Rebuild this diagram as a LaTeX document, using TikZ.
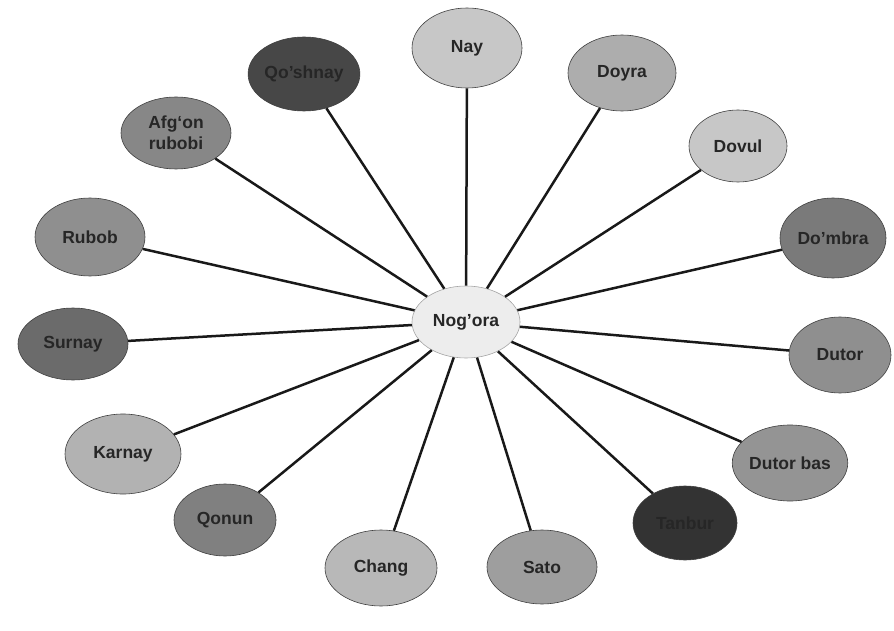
\documentclass[tikz,border=0pt]{standalone}
\usepackage{fontspec}
\setmainfont{Liberation Sans}
\usetikzlibrary{shapes.geometric}
\tikzset{
  inst/.style={ellipse, draw=black!75, line width=0.6pt, inner sep=0pt,
    minimum width=108pt, minimum height=76pt, align=center,
    font=\fontsize{17.5}{21}\selectfont\bfseries, text=black!85},
  hub/.style={inst, fill=black!7, draw=black!35, minimum width=108pt, minimum height=72pt},
  spoke/.style={line width=2.5pt, black!90}
}
\begin{document}
\begin{tikzpicture}[x=1pt,y=-1pt]
\useasboundingbox (0,0) rectangle (894,631);
\node[hub] (c) at (466,322) {Nog'ora};
\node[inst, fill=black!22, minimum width=110pt, minimum height=80pt] (nay) at (467,48) {Nay};
\node[inst, fill=black!32] (doyra) at (622,73) {Doyra};
\node[inst, fill=black!22, minimum width=98pt, minimum height=72pt] (dovul) at (738,146) {Dovul};
\node[inst, fill=black!52, minimum width=106pt, minimum height=80pt] (dombra) at (833,238) {Do'mbra};
\node[inst, fill=black!44, minimum width=102pt, minimum height=76pt] (dutor) at (840,355) {Dutor};
\node[inst, fill=black!42, minimum width=104pt, minimum height=76pt] (dutorbas) at (790,463) {Dutor bas};
\node[inst, fill=black!80, minimum width=104pt, minimum height=74pt] (tanbur) at (685,523) {Tanbur};
\node[inst, fill=black!38, minimum width=110pt, minimum height=74pt] (sato) at (542,567) {Sato};
\node[inst, fill=black!28, minimum width=112pt, minimum height=76pt] (chang) at (381,568) {Chang};
\node[inst, fill=black!50, minimum width=102pt, minimum height=72pt] (qonun) at (225,520) {Qonun};
\node[inst, fill=black!30, minimum width=116pt, minimum height=80pt] (karnay) at (123,454) {Karnay};
\node[inst, fill=black!58, minimum width=110pt, minimum height=72pt] (surnay) at (73,344) {Surnay};
\node[inst, fill=black!44, minimum width=110pt, minimum height=78pt] (rubob) at (90,237) {Rubob};
\node[inst, fill=black!47, minimum width=110pt, minimum height=72pt] (afgon) at (176,133) {Afg`on\\rubobi};
\node[inst, fill=black!72, minimum width=108pt, minimum height=74pt] (qoshnay) at (304,74) {Qo'shnay};
\foreach \n in {nay,doyra,dovul,dombra,dutor,dutorbas,tanbur,sato,chang,qonun,karnay,surnay,rubob,afgon,qoshnay}
  \draw[spoke] (c) -- (\n);
\end{tikzpicture}
\end{document}
